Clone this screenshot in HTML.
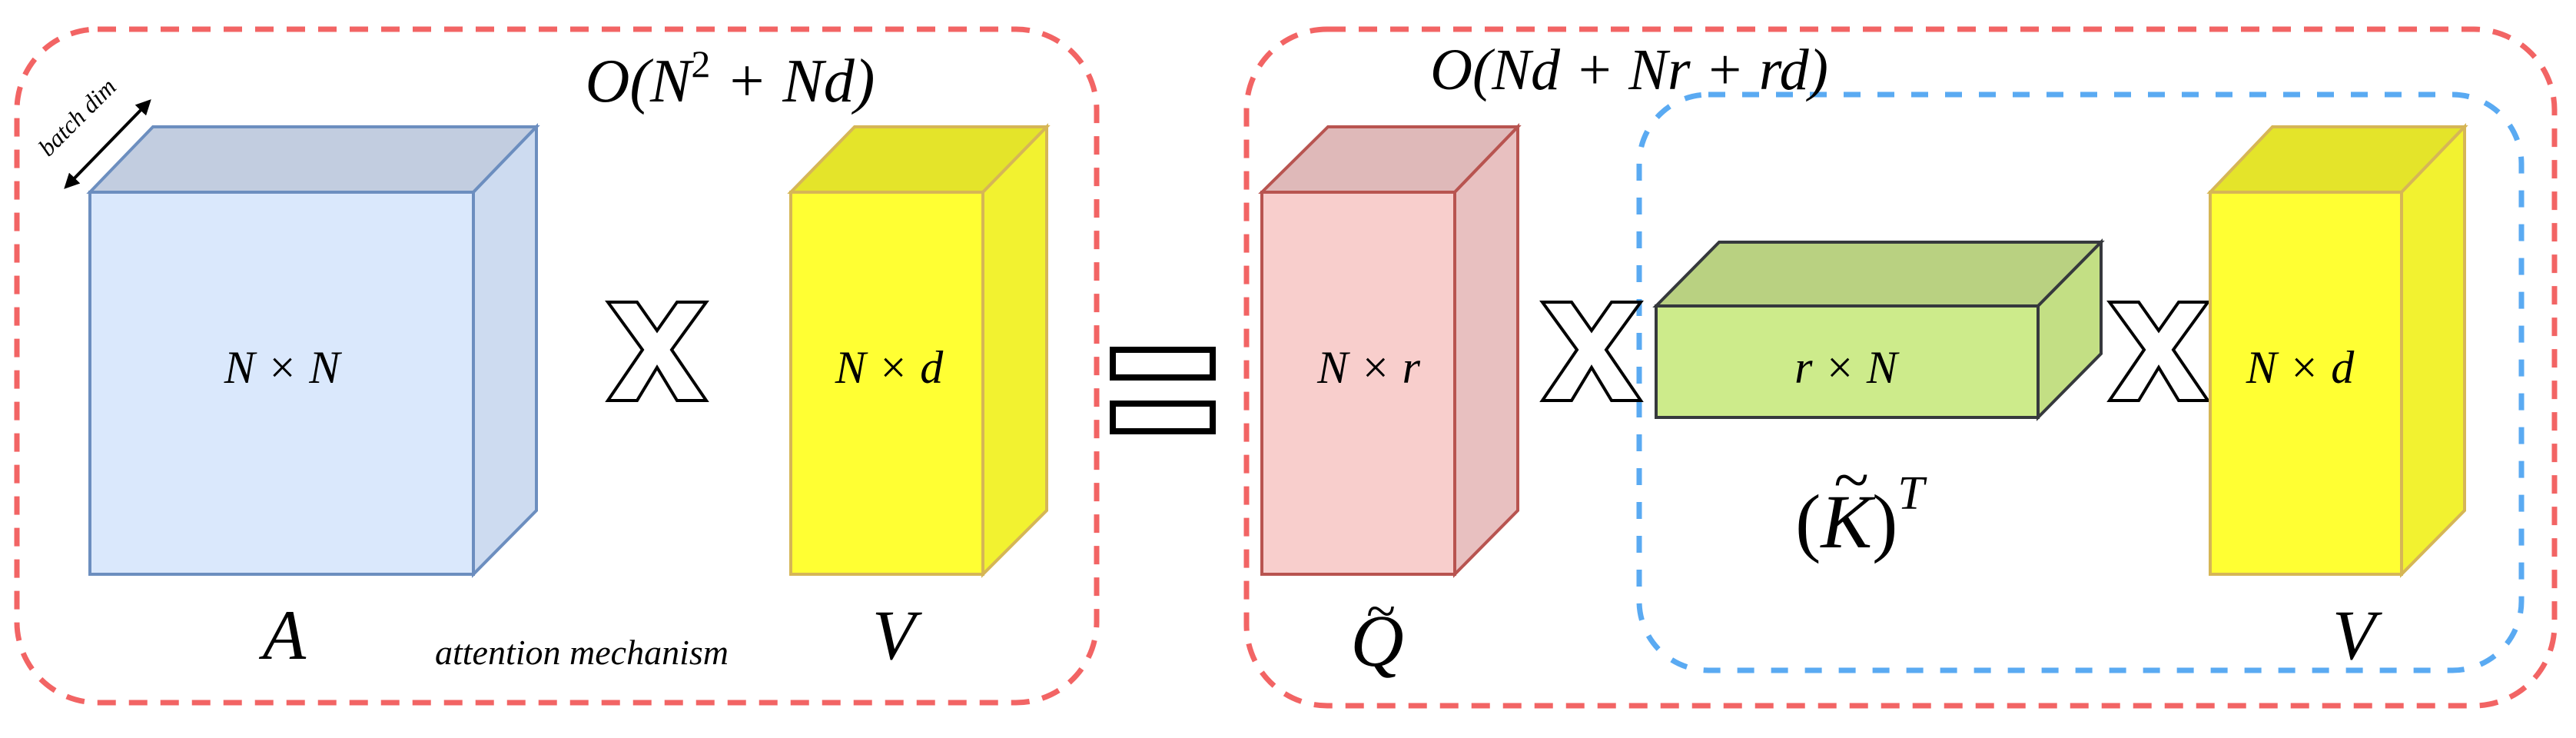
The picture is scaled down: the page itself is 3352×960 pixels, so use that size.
<!DOCTYPE html>
<html><head><meta charset="utf-8"><style>
html,body{margin:0;padding:0;background:#fff;}
svg{display:block;}
text{font-family:"Liberation Serif",serif;font-style:italic;}
</style></head><body>
<svg width="3352" height="960" viewBox="0 0 3352 960" xmlns="http://www.w3.org/2000/svg">
<defs>
<marker id="ah" viewBox="0 0 10 10" refX="8" refY="5" markerWidth="5" markerHeight="5" orient="auto-start-reverse"><path d="M0,0 L10,5 L0,10 z" fill="#000"/></marker>
<g id="X"><polygon points="0,0 38,0 64,37 90,0 128,0 83,62 128,128 90,128 64,85 38,128 0,128 45,62" fill="#fff" stroke="#000" stroke-width="4" stroke-linejoin="miter"/></g>
</defs>
<rect x="22" y="38" width="1405" height="876" rx="105" fill="none" stroke="#f26464" stroke-width="7" stroke-dasharray="24 17"/>
<rect x="1622" y="38" width="1702" height="880" rx="105" fill="none" stroke="#f26464" stroke-width="7" stroke-dasharray="24 17"/>
<rect x="2133" y="123" width="1148" height="749" rx="90" fill="none" stroke="#5aaaf2" stroke-width="7" stroke-dasharray="22 22"/>

<polygon points="117,250 199,165 698,165 616,250" fill="#c2cde0" stroke="#6c8ebf" stroke-width="4"/>
<polygon points="616,250 698,165 698,664 616,747" fill="#cddbf0" stroke="#6c8ebf" stroke-width="4"/>
<rect x="117" y="250" width="499" height="497" fill="#dae8fc" stroke="#6c8ebf" stroke-width="4"/>
<text x="367" y="498" font-size="60" text-anchor="middle">N × N</text>

<polygon points="1029,250 1112,165 1362,165 1279,250" fill="#e4e42a" stroke="#d6b656" stroke-width="4"/>
<polygon points="1279,250 1362,165 1362,664 1279,747" fill="#f2f230" stroke="#d6b656" stroke-width="4"/>
<rect x="1029" y="250" width="250" height="497" fill="#ffff33" stroke="#d6b656" stroke-width="4"/>
<text x="1157" y="498" font-size="60" text-anchor="middle">N × d</text>

<use href="#X" x="791" y="393"/>
<rect x="1448" y="455" width="130" height="36" fill="#fff" stroke="#000" stroke-width="8"/>
<rect x="1448" y="525" width="130" height="36" fill="#fff" stroke="#000" stroke-width="8"/>

<text x="950" y="132" font-size="80" text-anchor="middle">O(N<tspan font-size="50" dy="-32" font-style="normal">2</tspan><tspan dy="32"> + Nd)</tspan></text>
<text x="370" y="857" font-size="92" text-anchor="middle">A</text>
<text x="1163" y="857" font-size="92" text-anchor="middle">V</text>
<text x="757" y="864" font-size="46" text-anchor="middle">attention mechanism</text>

<line x1="86" y1="243" x2="194" y2="132" stroke="#000" stroke-width="4" marker-start="url(#ah)" marker-end="url(#ah)"/>
<text x="0" y="0" font-size="32" text-anchor="middle" transform="translate(108,160) rotate(-45)">batch dim</text>

<polygon points="1642,250 1728,165 1975,165 1893,250" fill="#dfb9b9" stroke="#b85450" stroke-width="4"/>
<polygon points="1893,250 1975,165 1975,664 1893,747" fill="#e8c0c0" stroke="#b85450" stroke-width="4"/>
<rect x="1642" y="250" width="251" height="497" fill="#f8cecc" stroke="#b85450" stroke-width="4"/>
<text x="1781" y="498" font-size="60" text-anchor="middle">N × r</text>

<use href="#X" x="2007" y="393"/>

<polygon points="2155,398 2237,315 2734,315 2652,398" fill="#b9d181" stroke="#36393d" stroke-width="4"/>
<polygon points="2652,398 2734,315 2734,460 2652,543" fill="#c3df84" stroke="#36393d" stroke-width="4"/>
<rect x="2155" y="398" width="497" height="145" fill="#cdeb8b" stroke="#36393d" stroke-width="4"/>
<text x="2402" y="498" font-size="60" text-anchor="middle">r × N</text>

<use href="#X" x="2745" y="393"/>

<polygon points="2876,250 2957,165 3207,165 3125,250" fill="#e4e42a" stroke="#d6b656" stroke-width="4"/>
<polygon points="3125,250 3207,165 3207,664 3125,747" fill="#f2f230" stroke="#d6b656" stroke-width="4"/>
<rect x="2876" y="250" width="249" height="497" fill="#ffff33" stroke="#d6b656" stroke-width="4"/>
<text x="2993" y="498" font-size="60" text-anchor="middle">N × d</text>

<text x="2120" y="116" font-size="76" text-anchor="middle">O(Nd + Nr + rd)</text>
<text x="1792" y="866" font-size="96" text-anchor="middle">Q</text>
<text x="1796" y="818" font-size="70" text-anchor="middle" font-style="normal">~</text>
<text x="3063" y="857" font-size="92" text-anchor="middle">V</text>
<text x="2420" y="712" font-size="100" text-anchor="middle"><tspan font-style="normal">(</tspan>K<tspan font-style="normal">)</tspan><tspan font-size="62" dy="-50">T</tspan></text>
<text x="2408" y="652" font-size="84" text-anchor="middle" font-style="normal">~</text>
</svg>
</body></html>
